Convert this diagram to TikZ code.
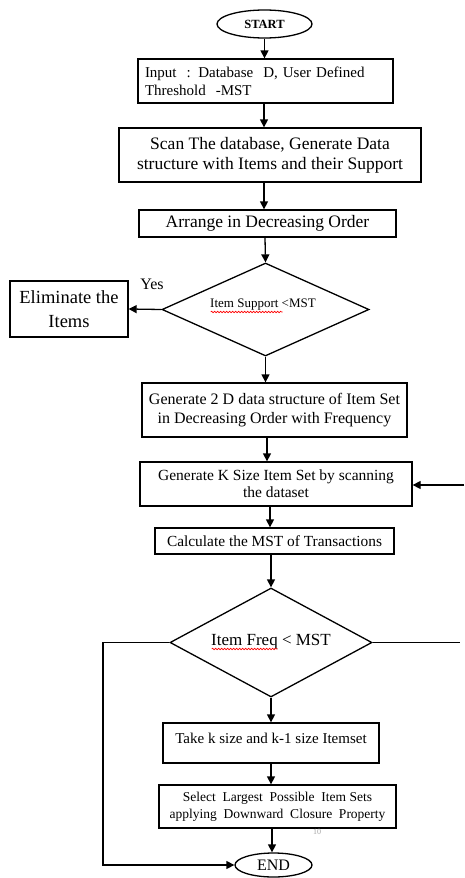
\documentclass[tikz,border=0pt]{standalone}
\usepackage{fontspec}
\setmainfont{Liberation Serif}
\usetikzlibrary{shapes.geometric,arrows.meta,decorations.pathmorphing,calc}
\newcommand{\fs}[2]{\fontsize{#1}{#2}\selectfont}
\begin{document}
\begin{tikzpicture}[x=1pt,y=-1pt,
  box/.style={draw, line width=1.3pt, rectangle, align=center, inner sep=0pt},
  oval/.style={draw, line width=1.3pt, ellipse, inner sep=0pt},
  dia/.style={draw, line width=1.3pt, diamond, inner sep=0pt},
  arr/.style={line width=1.3pt, -{Triangle[length=8pt,width=8pt]}},
  conn/.style={line width=1.3pt},
  spell/.style={draw=red, line width=0.6pt, decorate, decoration={snake, segment length=3pt, amplitude=0.8pt}}]
\useasboundingbox (0,0) rectangle (464,878);
\fill[white] (0,0) rectangle (464,878);

\node[oval, minimum width=95pt, minimum height=28pt, font=\fs{12.5}{14}\bfseries] (start) at (264.5,24) {START};
\node[box, minimum width=255pt, minimum height=44pt, text width=241pt, align=left, inner xsep=7pt, font=\fs{15}{18}] (input) at (265.5,81)
  {Input\ \ : Database\ \ D, User Defined\\Threshold\ \ -MST};
\node[box, minimum width=302pt, minimum height=54pt, font=\fs{17.5}{20}] (scan) at (270,155)
  {Scan The database, Generate Data\\structure with Items and their Support};
\node[box, minimum width=257pt, minimum height=27pt, font=\fs{17.5}{20}] (arrange) at (267.5,223.5)
  {Arrange in Decreasing Order};
\node[dia, minimum width=207pt, minimum height=93pt] (d1) at (265.5,309.5) {};
\node[font=\fs{13}{15}] (d1t) at (263,305) {Item Support <MST};
\node[box, minimum width=118pt, minimum height=56pt, font=\fs{18.5}{24}] (elim) at (69,309)
  {Eliminate the\\Items};
\node[font=\fs{16}{18}] (yes) at (152,284) {Yes};
\node[box, minimum width=265pt, minimum height=54pt, font=\fs{16}{19}] (gen2d) at (274.5,410)
  {Generate 2 D data structure of Item Set\\in Decreasing Order with Frequency};
\node[box, minimum width=272pt, minimum height=44pt, font=\fs{15.5}{17}] (genk) at (276,484)
  {Generate K Size Item Set by scanning\\the dataset};
\node[box, minimum width=239pt, minimum height=26pt, font=\fs{15.4}{18}] (calc) at (274.5,541)
  {Calculate the MST of Transactions};
\node[dia, minimum width=202pt, minimum height=109pt] (d2) at (271,642.5) {};
\node[font=\fs{17}{20}] (d2t) at (271,642) {Item Freq < MST};
\node[box, minimum width=216pt, minimum height=40pt] (take) at (271,743) {};
\node[font=\fs{15}{17}] (taket) at (271,738) {Take k size and k-1 size Itemset};
\node[box, minimum width=237pt, minimum height=43pt, font=\fs{13.5}{17}] (select) at (277.5,806.5)
  {Select\ \ Largest\ \ Possible\ \ Item Sets\\applying\ \ Downward\ \ Closure\ \ Property};
\node[text=black!35, font=\fs{8}{9}] (pg) at (317,832) {10};
\node[oval, minimum width=77pt, minimum height=24pt, font=\fs{16}{18}] (end) at (273.5,865) {END};

% spelling underlines
\draw[spell] ($(d1t.west)+(4,7)$) -- ++(72,0);
\draw[spell] ($(d2t.west)+(4,7)$) -- ++(66,0);

% connector start points
\coordinate (a1) at ($(input.south)+(-1.5,0)$);
\coordinate (a2) at ($(scan.south)+(-6,0)$);
\coordinate (a3) at ($(arrange.south)+(-2.5,0)$);
\coordinate (a4) at ($(gen2d.south)+(-7.5,0)$);
\coordinate (a5) at ($(genk.south)+(-6,0)$);
\coordinate (a6) at ($(calc.south)+(-3.5,0)$);
\coordinate (a7) at ($(select.south)+(-5.5,0)$);

% connectors
\draw[arr] (start.south) -- (start.south |- input.north);
\draw[arr] (a1) -- (a1 |- scan.north);
\draw[arr] (a2) -- (a2 |- arrange.north);
\draw[arr] (a3) -- (d1.north);
\draw[arr] (d1.west) -- (elim.east);
\draw[arr] (d1.south) -- (d1.south |- gen2d.north);
\draw[arr] (a4) -- (a4 |- genk.north);
\draw[arr] (a5) -- (a5 |- calc.north);
\draw[arr] (a6) -- (d2.north);
\draw[arr] (d2.south) -- (d2.south |- take.north);
\draw[arr] (take.south) -- (take.south |- select.north);
\draw[arr] (a7) -- (a7 |- end.north);
\draw[arr] (d2.west) -- (103,642.5) |- (end.west);
\coordinate (rr) at (460,642.5);
\draw[conn] (d2.east) -- (rr);
\coordinate (rk) at (464,485);
\draw[arr] (rk) -- (genk.east |- rk);
\end{tikzpicture}
\end{document}
